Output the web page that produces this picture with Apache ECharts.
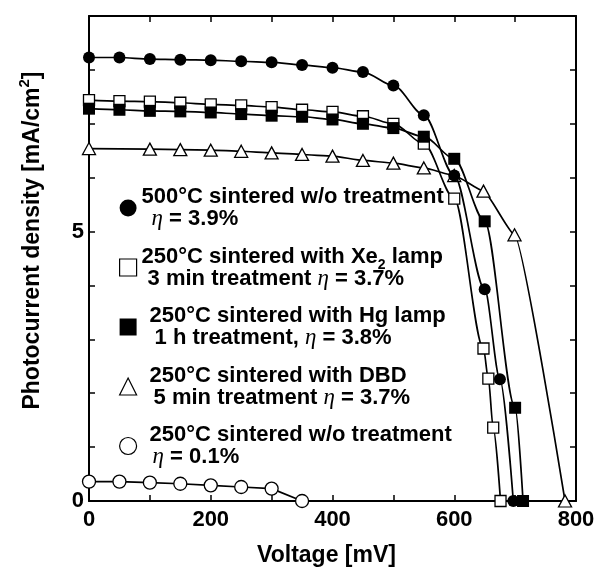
<!DOCTYPE html>
<html>
<head>
<meta charset="utf-8">
<script src="https://cdn.jsdelivr.net/npm/echarts@6/dist/echarts.min.js"></script>
<style>
  html, body { margin: 0; padding: 0; background: #fff; }
  #chart { width: 596px; height: 567px; }
</style>
</head>
<body>
<div id="chart"></div>
<script>
// I-V curves: voltage in mV, photocurrent density in mA/cm2
const v500 = [0, 50, 100, 150, 200, 250, 300, 350, 400, 450, 500, 550, 600, 650, 675, 697];
const j500 = [8.23, 8.23, 8.20, 8.19, 8.18, 8.16, 8.14, 8.09, 8.04, 7.96, 7.71, 7.16, 6.04, 3.93, 2.26, 0];

const vXe = [0, 50, 100, 150, 200, 250, 300, 350, 400, 450, 500, 550, 600, 648, 656, 664, 676];
const jXe = [7.44, 7.42, 7.41, 7.39, 7.36, 7.34, 7.31, 7.26, 7.22, 7.14, 7.00, 6.63, 5.61, 2.83, 2.27, 1.36, 0];

const vHg = [0, 50, 100, 150, 200, 250, 300, 350, 400, 450, 500, 550, 600, 650, 700, 713];
const jHg = [7.28, 7.26, 7.24, 7.23, 7.21, 7.18, 7.15, 7.13, 7.08, 7.00, 6.92, 6.76, 6.35, 5.19, 1.73, 0];

const vDbd = [0, 100, 150, 200, 250, 300, 350, 400, 450, 500, 550, 600, 648, 699, 782];
const jDbd = [6.54, 6.53, 6.52, 6.51, 6.49, 6.46, 6.43, 6.40, 6.32, 6.27, 6.18, 6.04, 5.75, 4.94, 0];

const v250 = [0, 50, 100, 150, 200, 250, 300, 350];
const j250 = [0.36, 0.36, 0.34, 0.32, 0.29, 0.26, 0.23, 0];

const seriesNames = ["s500", "sXe", "sHg", "sDbd", "s250"];
const legendLine1 = [
  "500°C sintered w/o treatment",
  "250°C sintered with Xe{sub|2} lamp",
  "250°C sintered with Hg lamp",
  "250°C sintered with DBD",
  "250°C sintered w/o treatment",
];
const legendLine2 = [
  "{eta|η} = 3.9%",
  "3 min treatment {eta|η} = 3.7%",
  "1 h treatment, {eta|η} = 3.8%",
  "5 min treatment {eta|η} = 3.7%",
  "{eta|η} = 0.1%",
];
const xTickLabels = [0, 200, 400, 600, 800];
const yTickLabels = [0, 5];

// indents of the legend lines (px), as in the figure
const indent1 = [0, 0, 8, 8, 8];
const indent2 = [10, 6, 13, 12, 11];

const FONT = "'Liberation Sans', Arial, Helvetica, sans-serif";

let chart = echarts.init(document.getElementById("chart"), null, { renderer: "canvas" });

function zip(xs, ys) {
  return xs.map((x, i) => [x, ys[i]]);
}

// wraps the plain head of a line into a padded rich token
function lineText(str, pad) {
  let first = str.indexOf("{");
  let head = first < 0 ? str : str.slice(0, first);
  let tail = first < 0 ? "" : str.slice(first);
  if (head === "") {
    // line starts with the eta token: pad the eta itself
    return tail.replace("{eta|", "{eta" + pad + "|");
  }
  return "{p" + pad + "|" + head + "}" + tail;
}

let rich = {
  eta: { fontFamily: "'Liberation Serif', 'Times New Roman', serif", fontStyle: "italic", fontWeight: "normal", fontSize: 23, lineHeight: 22, color: "#000" },
  sub: { fontFamily: FONT, fontWeight: "bold", fontSize: 14, lineHeight: 14, verticalAlign: "bottom", padding: [0, 0, -5, 0], color: "#000" },
};
[0, 6, 8, 10, 11, 12, 13].forEach((p) => {
  rich["p" + p] = { fontFamily: FONT, fontWeight: "bold", fontSize: 22, lineHeight: 22, padding: [0, 0, 0, p], color: "#000" };
  rich["eta" + p] = Object.assign({}, rich.eta, { padding: [0, 0, 0, p] });
});

const lineStyle = { color: "#000", width: 1.7 };

function makeSeries(name, data, symbol, size, filled, smooth, z) {
  return {
    name: name,
    type: "line",
    data: data,
    symbol: symbol,
    symbolSize: size,
    smooth: smooth,
    smoothMonotone: "x",
    z: z,
    lineStyle: lineStyle,
    itemStyle: filled
      ? { color: "#000", borderColor: "#000", borderWidth: 0 }
      : { color: "#fff", borderColor: "#000", borderWidth: 1.3 },
    emphasis: { disabled: true },
    silent: true,
  };
}

let option = {
  animation: false,
  backgroundColor: "#fff",
  grid: { left: 89, right: 20, top: 16, bottom: 66, outerBoundsMode: "none", containLabel: false },
  legend: {
    orient: "vertical",
    left: 119,
    top: 186,
    padding: 0,
    itemGap: 15,
    itemWidth: 17,
    itemHeight: 17,
    selectedMode: false,
    data: [
      { name: "s500", icon: "circle", itemStyle: { color: "#000", borderWidth: 0 } },
      { name: "sXe", icon: "rect", itemStyle: { color: "#fff", borderColor: "#000", borderWidth: 1.2 } },
      { name: "sHg", icon: "rect", itemStyle: { color: "#000", borderWidth: 0 } },
      { name: "sDbd", icon: "triangle", itemStyle: { color: "#fff", borderColor: "#000", borderWidth: 1.2 } },
      { name: "s250", icon: "circle", itemStyle: { color: "#fff", borderColor: "#000", borderWidth: 1.2 } },
    ],
    formatter: function (name) {
      let i = seriesNames.indexOf(name);
      return lineText(legendLine1[i], indent1[i]) + "\n" + lineText(legendLine2[i], indent2[i]);
    },
    textStyle: { color: "#000", fontFamily: FONT, fontWeight: "bold", fontSize: 22, lineHeight: 22, rich: rich },
  },
  xAxis: [
    {
      type: "value",
      min: 0,
      max: 800,
      interval: 100,
      name: "Voltage [mV]",
      nameLocation: "middle",
      nameGap: 43,
      nameTextStyle: { color: "#000", fontFamily: FONT, fontWeight: "bold", fontSize: 23, padding: [0, 12, 0, 0] },
      axisLine: { onZero: false, lineStyle: { color: "#000", width: 2 } },
      axisTick: { inside: true, length: 6, lineStyle: { color: "#000", width: 1.5 } },
      axisLabel: {
        color: "#000",
        fontFamily: FONT,
        fontWeight: "bold",
        fontSize: 22,
        margin: 8,
        formatter: (v) => (xTickLabels.indexOf(v) >= 0 ? String(v) : ""),
      },
      splitLine: { show: false },
    },
    {
      type: "value",
      position: "top",
      min: 0,
      max: 800,
      interval: 100,
      axisLine: { onZero: false, lineStyle: { color: "#000", width: 2 } },
      axisTick: { inside: true, length: 6, lineStyle: { color: "#000", width: 1.5 } },
      axisLabel: { show: false },
      splitLine: { show: false },
    },
  ],
  yAxis: [
    {
      type: "value",
      min: 0,
      max: 9,
      interval: 1,
      name: "Photocurrent density [mA/cm{sup|2}]",
      nameLocation: "middle",
      nameGap: 40,
      nameTextStyle: {
        color: "#000",
        fontFamily: FONT,
        fontWeight: "bold",
        fontSize: 23,
        lineHeight: 32,
        padding: [0, 0, 0, 36],
        rich: {
          sup: { fontFamily: FONT, fontWeight: "bold", fontSize: 15, lineHeight: 15, verticalAlign: "top", color: "#000" },
        },
      },
      axisLine: { onZero: false, lineStyle: { color: "#000", width: 2 } },
      axisTick: { inside: true, length: 6, lineStyle: { color: "#000", width: 1.5 } },
      axisLabel: {
        color: "#000",
        fontFamily: FONT,
        fontWeight: "bold",
        fontSize: 22,
        margin: 5,
        formatter: (v) => (yTickLabels.indexOf(v) >= 0 ? String(v) : ""),
      },
      splitLine: { show: false },
    },
    {
      type: "value",
      position: "right",
      min: 0,
      max: 9,
      interval: 1,
      axisLine: { onZero: false, lineStyle: { color: "#000", width: 2 } },
      axisTick: { inside: true, length: 6, lineStyle: { color: "#000", width: 1.5 } },
      axisLabel: { show: false },
      splitLine: { show: false },
    },
  ],
  series: [
    makeSeries("s500", zip(v500, j500), "circle", 12, true, 0.3, 5),
    makeSeries("sXe", zip(vXe, jXe), "rect", 11, false, 0.3, 2),
    makeSeries("sHg", zip(vHg, jHg), "rect", 12, true, 0.3, 3),
    makeSeries("sDbd", zip(vDbd, jDbd), "triangle", [13, 12], false, 0.15, 1),
    makeSeries("s250", zip(v250, j250), "circle", 13, false, false, 4),
  ],
};

chart.setOption(option);
</script>
</body>
</html>
